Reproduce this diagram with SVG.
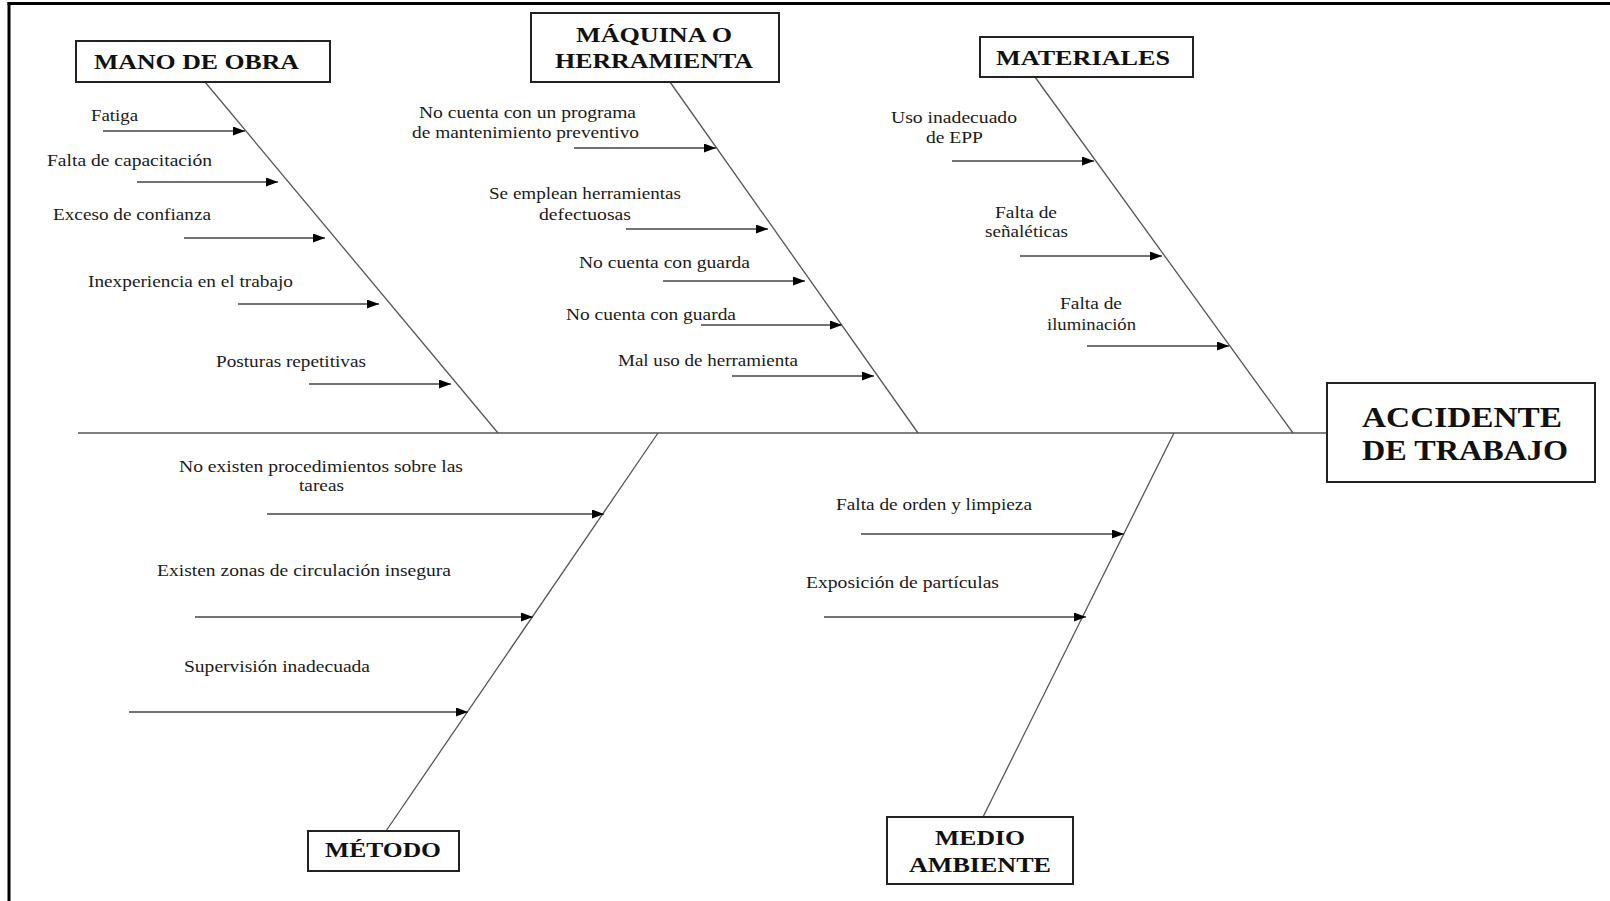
<svg xmlns="http://www.w3.org/2000/svg" width="1610" height="901" viewBox="0 0 1610 901">
<style>
.lbl{font-family:"Liberation Serif","Times New Roman",serif;font-size:16.5px;fill:#1a1a1a}
.ttl{font-family:"Liberation Serif","Times New Roman",serif;font-size:21px;font-weight:bold;fill:#111}
.big{font-family:"Liberation Serif","Times New Roman",serif;font-size:29px;font-weight:bold;fill:#111}
.box{fill:#fff;stroke:#222;stroke-width:2}
.bone{stroke:#555;stroke-width:1.3;fill:none}
.arr{stroke:#444;stroke-width:1.5;fill:none;marker-end:url(#ah)}
</style>
<defs>
<marker id="ah" markerUnits="userSpaceOnUse" markerWidth="12" markerHeight="9" refX="12" refY="4.5" orient="auto">
<path d="M0,0 L12,4.5 L0,9 z" fill="#000"/>
</marker>
</defs>
<rect x="0" y="0" width="1610" height="901" fill="#fff"/>
<g id="frame">
<line x1="7.5" y1="3.5" x2="1610" y2="3.5" stroke="#000" stroke-width="3"/>
<line x1="9" y1="2" x2="9" y2="901" stroke="#000" stroke-width="3"/>
</g>
<g id="connectors">
<line class="bone" x1="78" y1="433" x2="1327" y2="433"/>
<line class="bone" x1="205" y1="82" x2="498" y2="433"/>
<line class="bone" x1="670" y1="82" x2="918" y2="433"/>
<line class="bone" x1="1035" y1="77" x2="1293" y2="433"/>
<line class="bone" x1="386" y1="831" x2="658" y2="433"/>
<line class="bone" x1="983" y1="817" x2="1174" y2="433"/>
<line class="arr" x1="103" y1="131" x2="245" y2="131"/>
<line class="arr" x1="137" y1="182" x2="278" y2="182"/>
<line class="arr" x1="184" y1="238" x2="325" y2="238"/>
<line class="arr" x1="238" y1="304" x2="379" y2="304"/>
<line class="arr" x1="309" y1="384" x2="451" y2="384"/>
<line class="arr" x1="574" y1="148" x2="716" y2="148"/>
<line class="arr" x1="626" y1="229" x2="768" y2="229"/>
<line class="arr" x1="663" y1="281" x2="805" y2="281"/>
<line class="arr" x1="701" y1="325" x2="842" y2="325"/>
<line class="arr" x1="732" y1="376" x2="874" y2="376"/>
<line class="arr" x1="952" y1="161" x2="1094" y2="161"/>
<line class="arr" x1="1020" y1="256" x2="1162" y2="256"/>
<line class="arr" x1="1087" y1="346" x2="1229" y2="346"/>
<line class="arr" x1="267" y1="514" x2="604" y2="514"/>
<line class="arr" x1="195" y1="617" x2="533" y2="617"/>
<line class="arr" x1="129" y1="712" x2="468" y2="712"/>
<line class="arr" x1="861" y1="534" x2="1124" y2="534"/>
<line class="arr" x1="824" y1="617" x2="1086" y2="617"/>
</g>
<g id="mano-de-obra">
<rect class="box" x="76" y="41" width="254" height="41"/>
<text class="ttl" x="94" y="69" textLength="205" lengthAdjust="spacingAndGlyphs">MANO DE OBRA</text>
<text class="lbl" x="91" y="121" textLength="47" lengthAdjust="spacingAndGlyphs">Fatiga</text>
<text class="lbl" x="47" y="166" textLength="165" lengthAdjust="spacingAndGlyphs">Falta de capacitación</text>
<text class="lbl" x="53" y="220" textLength="158" lengthAdjust="spacingAndGlyphs">Exceso de confianza</text>
<text class="lbl" x="88" y="287" textLength="205" lengthAdjust="spacingAndGlyphs">Inexperiencia  en el trabajo</text>
<text class="lbl" x="216" y="367" textLength="150" lengthAdjust="spacingAndGlyphs">Posturas repetitivas</text>
</g>
<g id="maquina">
<rect class="box" x="531" y="13" width="248" height="69"/>
<text class="ttl" x="576" y="42" textLength="156" lengthAdjust="spacingAndGlyphs">MÁQUINA O</text>
<text class="ttl" x="555" y="68" textLength="198" lengthAdjust="spacingAndGlyphs">HERRAMIENTA</text>
<text class="lbl" x="419" y="118" textLength="217" lengthAdjust="spacingAndGlyphs">No cuenta con un programa</text>
<text class="lbl" x="412" y="138" textLength="227" lengthAdjust="spacingAndGlyphs">de mantenimiento  preventivo</text>
<text class="lbl" x="489" y="199" textLength="192" lengthAdjust="spacingAndGlyphs">Se emplean  herramientas</text>
<text class="lbl" x="539" y="220" textLength="92" lengthAdjust="spacingAndGlyphs">defectuosas</text>
<text class="lbl" x="579" y="268" textLength="171" lengthAdjust="spacingAndGlyphs">No cuenta con guarda</text>
<text class="lbl" x="566" y="320" textLength="170" lengthAdjust="spacingAndGlyphs">No cuenta con guarda</text>
<text class="lbl" x="618" y="366" textLength="180" lengthAdjust="spacingAndGlyphs">Mal uso de herramienta</text>
</g>
<g id="materiales">
<rect class="box" x="980" y="37" width="213" height="40"/>
<text class="ttl" x="996" y="65" textLength="174" lengthAdjust="spacingAndGlyphs">MATERIALES</text>
<text class="lbl" x="891" y="123" textLength="126" lengthAdjust="spacingAndGlyphs">Uso inadecuado</text>
<text class="lbl" x="926" y="143" textLength="57" lengthAdjust="spacingAndGlyphs">de EPP</text>
<text class="lbl" x="995" y="218" textLength="62" lengthAdjust="spacingAndGlyphs">Falta de</text>
<text class="lbl" x="985" y="237" textLength="83" lengthAdjust="spacingAndGlyphs">señaléticas</text>
<text class="lbl" x="1060" y="309" textLength="62" lengthAdjust="spacingAndGlyphs">Falta de</text>
<text class="lbl" x="1047" y="330" textLength="89" lengthAdjust="spacingAndGlyphs">iluminación</text>
</g>
<g id="metodo">
<rect class="box" x="308" y="831" width="151" height="40"/>
<text class="ttl" x="325" y="857" textLength="116" lengthAdjust="spacingAndGlyphs">MÉTODO</text>
<text class="lbl" x="179" y="472" textLength="284" lengthAdjust="spacingAndGlyphs">No existen procedimientos sobre las</text>
<text class="lbl" x="299" y="491" textLength="45" lengthAdjust="spacingAndGlyphs">tareas</text>
<text class="lbl" x="157" y="576" textLength="294" lengthAdjust="spacingAndGlyphs">Existen  zonas de circulación  insegura</text>
<text class="lbl" x="184" y="672" textLength="186" lengthAdjust="spacingAndGlyphs">Supervisión  inadecuada</text>
</g>
<g id="medio-ambiente">
<rect class="box" x="887" y="817" width="186" height="67"/>
<text class="ttl" x="935" y="845" textLength="90" lengthAdjust="spacingAndGlyphs">MEDIO</text>
<text class="ttl" x="909" y="872" textLength="142" lengthAdjust="spacingAndGlyphs">AMBIENTE</text>
<text class="lbl" x="836" y="510" textLength="196" lengthAdjust="spacingAndGlyphs">Falta de orden y limpieza</text>
<text class="lbl" x="806" y="588" textLength="193" lengthAdjust="spacingAndGlyphs">Exposición de partículas</text>
</g>
<g id="accidente">
<rect class="box" x="1327" y="383" width="268" height="99"/>
<text class="big" x="1362" y="427" textLength="200" lengthAdjust="spacingAndGlyphs">ACCIDENTE</text>
<text class="big" x="1362" y="460" textLength="206" lengthAdjust="spacingAndGlyphs">DE TRABAJO</text>
</g>
</svg>
